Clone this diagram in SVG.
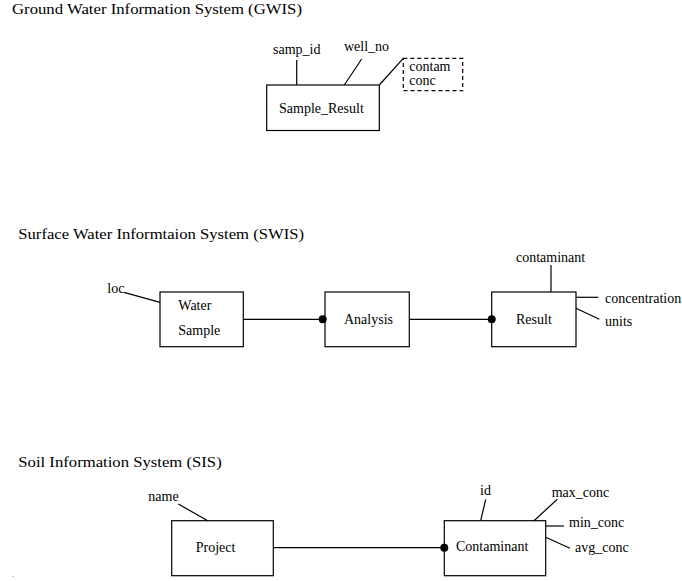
<svg xmlns="http://www.w3.org/2000/svg" width="682" height="581" viewBox="0 0 682 581">
  <style>
    text { font-family: "Liberation Serif", "Times New Roman", serif; font-size: 14px; fill: #000; }
    .title { font-size: 15px; }
    .box { fill: #fff; stroke: #000; stroke-width: 1.2; }
    .attr { fill: none; stroke: #000; stroke-width: 1.2; }
    .dashed { fill: none; stroke: #000; stroke-width: 1.2; stroke-dasharray: 4 3; }
    .link { fill: none; stroke: #000; stroke-width: 1.2; }
    .dot { fill: #000; }
  </style>
  <rect width="682" height="581" fill="#fff"/>

  <!-- section titles -->
  <text class="title" x="12" y="13.5" textLength="290" lengthAdjust="spacingAndGlyphs">Ground Water Information System (GWIS)</text>
  <text class="title" x="18.3" y="239" textLength="285.7" lengthAdjust="spacingAndGlyphs">Surface Water Informtaion System (SWIS)</text>
  <text class="title" x="18.3" y="467" textLength="203.4" lengthAdjust="spacingAndGlyphs">Soil Information System (SIS)</text>

  <!-- GWIS -->
  <g id="sample_result">
    <rect class="box" x="266.7" y="85" width="112.6" height="45.5"/>
    <text x="279" y="113">Sample_Result</text>
    <line class="attr" x1="296.7" y1="60" x2="296.7" y2="85"/>
    <text x="273" y="54">samp_id</text>
    <line class="attr" x1="361.7" y1="59" x2="344.3" y2="85"/>
    <text x="344" y="51">well_no</text>
    <line class="attr" x1="379.3" y1="85" x2="403.3" y2="58.3"/>
    <rect class="dashed" x="403.3" y="58.3" width="59.4" height="32.4"/>
    <text x="409.3" y="71">contam</text>
    <text x="409.3" y="85">conc</text>
  </g>

  <!-- SWIS -->
  <g id="water_sample">
    <rect class="box" x="160" y="292" width="83.3" height="54.7"/>
    <text x="178.3" y="310">Water</text>
    <text x="178.3" y="335">Sample</text>
    <line class="attr" x1="124" y1="292.3" x2="160" y2="302.3"/>
    <text x="107.3" y="293.3">loc</text>
  </g>
  <g id="analysis">
    <rect class="box" x="325" y="292" width="84.3" height="54.7"/>
    <text x="344" y="324">Analysis</text>
  </g>
  <g id="result">
    <rect class="box" x="491.7" y="292" width="84.3" height="54.7"/>
    <text x="516" y="324">Result</text>
    <line class="attr" x1="551" y1="265" x2="551" y2="292"/>
    <text x="516" y="262.3">contaminant</text>
    <line class="attr" x1="576" y1="297.3" x2="598.3" y2="297.3"/>
    <text x="605" y="302.7">concentration</text>
    <line class="attr" x1="576" y1="308.3" x2="599.3" y2="319.3"/>
    <text x="605" y="326">units</text>
  </g>

  <!-- SIS -->
  <g id="project">
    <rect class="box" x="171.7" y="520.7" width="101.6" height="55"/>
    <text x="195.7" y="551.7">Project</text>
    <line class="attr" x1="178.3" y1="504" x2="207.7" y2="520.7"/>
    <text x="148.3" y="500.7">name</text>
  </g>
  <g id="contaminant">
    <rect class="box" x="444.3" y="520.7" width="101.4" height="55"/>
    <text x="456" y="551">Contaminant</text>
    <line class="attr" x1="485.7" y1="499.3" x2="480.7" y2="520.7"/>
    <text x="480" y="495">id</text>
    <line class="attr" x1="557.3" y1="499.3" x2="534" y2="520.7"/>
    <text x="551.7" y="496.7">max_conc</text>
    <line class="attr" x1="545.7" y1="526" x2="564" y2="526"/>
    <text x="569" y="527.3">min_conc</text>
    <line class="attr" x1="545.7" y1="537.3" x2="570" y2="548.3"/>
    <text x="575" y="551.7">avg_conc</text>
  </g>

  <!-- connectors -->
  <g id="connectors">
    <line class="link" x1="243.3" y1="319.3" x2="322.7" y2="319.3"/>
    <circle class="dot" cx="322.7" cy="319.3" r="4"/>
    <line class="link" x1="409.3" y1="319.3" x2="491.7" y2="319.3"/>
    <circle class="dot" cx="491.7" cy="319.3" r="4"/>
    <line class="link" x1="273.3" y1="547.7" x2="444.3" y2="547.7"/>
    <circle class="dot" cx="444.3" cy="547.7" r="4"/>
  </g>

  <text x="12" y="577" style="font-size:6px">.</text>
</svg>
